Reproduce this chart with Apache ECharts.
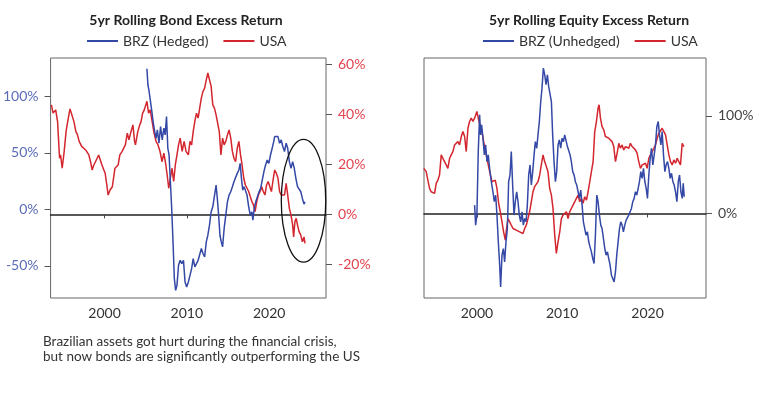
<!DOCTYPE html>
<html>
<head>
<meta charset="utf-8">
<script src="https://cdn.jsdelivr.net/npm/echarts@6/dist/echarts.min.js"></script>
<style>
  html, body { margin: 0; padding: 0; background: #fff; }
  #main { width: 778px; height: 396px; }
</style>
</head>
<body>
<div id="main"></div>
<script>
// left panel: bond excess returns
const bondUsaYears = [1993.55,1993.75,1994.07,1994.3,1994.54,1994.66,1994.86,1995.1,1995.33,1995.53,
  1995.81,1996.05,1996.28,1996.52,1996.72,1996.92,1997.23,1997.47,1997.71,1998.1,
  1998.3,1998.5,1998.7,1998.9,1999.29,1999.49,1999.69,1999.92,2000.08,2000.28,
  2000.44,2000.67,2000.95,2001.27,2001.51,2001.66,2001.86,2002.14,2002.38,2002.53,
  2002.77,2002.97,2003.17,2003.45,2003.65,2003.76,2004.04,2004.28,2004.44,2004.63,
  2004.83,2005.03,2005.15,2005.35,2005.55,2005.75,2006.02,2006.26,2006.5,2006.74,
  2006.98,2007.21,2007.45,2007.61,2007.8,2008.0,2008.2,2008.4,2008.6,2008.8,
  2008.99,2009.19,2009.43,2009.67,2009.9,2010.18,2010.38,2010.58,2010.77,2010.97,
  2011.17,2011.37,2011.56,2011.76,2011.96,2012.16,2012.36,2012.55,2012.75,2012.95,
  2013.15,2013.35,2013.55,2013.74,2013.94,2014.14,2014.34,2014.53,2014.73,2014.93,
  2015.13,2015.33,2015.53,2015.72,2015.92,2016.12,2016.32,2016.52,2016.71,2016.91,
  2017.11,2017.31,2017.51,2017.7,2017.9,2018.1,2018.29,2018.49,2018.69,2018.89,
  2019.09,2019.28,2019.48,2019.68,2019.88,2020.08,2020.27,2020.47,2020.67,2020.87,
  2021.07,2021.26,2021.46,2021.66,2021.86,2022.06,2022.25,2022.45,2022.65,2022.85,
  2022.97,2023.12,2023.28,2023.44,2023.64,2023.84,2024.03,2024.23,2024.35];
const bondUsa = [43.7,40.4,41.7,37.0,22.4,23.7,18.4,25.0,33.0,37.1,
  42.1,42.1,37.1,33.1,31.7,29.1,27.1,27.7,25.7,23.7,
  21.0,17.7,19.7,21.0,23.7,21.7,19.7,17.7,16.4,11.7,
  7.7,9.7,11.0,18.4,17.7,19.7,23.7,25.1,25.7,27.7,
  32.4,29.7,32.4,35.7,29.1,27.7,33.0,35.7,37.0,40.4,
  41.7,42.4,45.1,40.4,41.7,37.7,32.4,29.1,27.7,25.1,
  21.0,24.4,19.7,15.7,10.4,14.4,18.4,13.1,19.7,23.7,
  27.7,30.4,25.1,29.1,25.1,23.7,29.1,27.7,33.0,37.1,
  40.4,38.4,42.4,46.4,49.1,50.4,53.7,56.4,53.7,51.1,
  43.7,42.4,39.7,40.4,33.0,23.7,30.4,27.7,29.1,31.7,
  33.7,30.4,25.1,22.4,21.0,26.4,29.1,23.7,19.7,14.4,
  11.7,11.0,9.1,7.1,5.1,3.7,1.1,5.1,7.7,9.1,
  11.0,9.1,7.7,11.7,13.1,11.0,9.1,13.7,17.7,16.4,
  14.4,9.1,7.7,7.1,7.7,12.4,7.7,2.4,-0.3,-4.3,
  -9.0,-3.0,-1.6,-4.3,-7.0,-8.3,-11.0,-9.0,-11.6];

const bondBrzYears = [2005.15,2005.27,2005.42,2005.62,2005.75,2005.9,2006.1,2006.26,2006.42,2006.61,
  2006.81,2007.01,2007.21,2007.37,2007.53,2007.69,2007.84,2008.0,2008.16,2008.32,
  2008.48,2008.64,2008.8,2008.99,2009.19,2009.39,2009.59,2009.78,2009.98,2010.18,
  2010.38,2010.58,2010.77,2010.97,2011.17,2011.37,2011.56,2011.76,2011.96,2012.16,
  2012.36,2012.55,2012.75,2012.95,2013.15,2013.35,2013.55,2013.7,2013.86,2014.02,
  2014.18,2014.34,2014.53,2014.73,2014.93,2015.13,2015.33,2015.53,2015.72,2015.92,
  2016.12,2016.32,2016.48,2016.63,2016.79,2016.95,2017.11,2017.31,2017.51,2017.7,
  2017.9,2018.02,2018.18,2018.37,2018.57,2018.77,2018.96,2019.16,2019.36,2019.56,
  2019.76,2019.96,2020.16,2020.36,2020.55,2020.67,2020.87,2021.07,2021.26,2021.46,
  2021.66,2021.86,2022.06,2022.25,2022.45,2022.65,2022.85,2023.05,2023.24,2023.44,
  2023.64,2023.84,2024.03,2024.23,2024.35];
const bondBrz = [124.6,110.4,104.4,105.9,86.7,77.8,68.9,63.0,70.4,58.6,
  73.4,61.5,71.9,66.0,82.2,54.1,48.2,24.5,0.8,-28.8,
  -61.3,-71.7,-67.3,-49.5,-45.1,-48.0,-45.1,-64.3,-68.7,-64.3,
  -58.4,-52.5,-43.6,-51.0,-52.5,-45.1,-43.6,-34.7,-39.1,-42.1,
  -28.8,-22.9,-14.0,-2.1,2.3,0.8,21.5,9.7,-5.1,-22.9,
  -28.8,-33.2,-16.9,-5.1,6.7,12.7,15.6,20.1,24.5,26.0,
  31.9,34.9,40.8,27.5,17.1,20.1,18.6,12.7,2.3,-5.1,
  -2.1,-9.5,0.8,6.7,8.2,15.6,18.6,26.0,33.4,39.3,
  43.7,40.8,48.2,54.1,60.0,64.5,63.0,64.5,58.6,61.5,
  55.6,51.2,58.6,54.1,42.3,36.3,42.3,36.3,27.5,20.1,
  20.1,15.6,9.7,4.7,6.7];

// right panel: equity excess returns
const eqUsaYears = [1993.78,1994.06,1994.25,1994.45,1994.64,1994.84,1995.04,1995.23,1995.43,1995.62,
  1995.82,1996.01,1996.21,1996.4,1996.6,1996.8,1996.99,1997.19,1997.38,1997.58,
  1997.77,1997.97,1998.17,1998.36,1998.56,1998.75,1998.95,1999.14,1999.34,1999.53,
  1999.73,2000.0,2000.2,2000.4,2000.59,2000.79,2000.98,2001.18,2001.37,2001.57,
  2001.76,2001.96,2002.15,2002.35,2002.55,2002.74,2002.94,2003.13,2003.33,2003.45,
  2003.64,2003.84,2004.03,2004.23,2004.42,2004.62,2004.82,2005.01,2005.21,2005.4,
  2005.6,2005.79,2005.99,2006.18,2006.38,2006.57,2006.77,2006.97,2007.16,2007.36,
  2007.55,2007.75,2007.94,2008.14,2008.33,2008.53,2008.73,2008.92,2009.12,2009.31,
  2009.51,2009.71,2009.9,2010.1,2010.29,2010.49,2010.68,2010.88,2011.07,2011.27,
  2011.47,2011.66,2011.86,2012.05,2012.25,2012.44,2012.64,2012.84,2013.03,2013.23,
  2013.42,2013.62,2013.81,2014.01,2014.2,2014.32,2014.48,2014.67,2014.87,2015.06,
  2015.26,2015.45,2015.65,2015.84,2016.04,2016.24,2016.43,2016.63,2016.82,2017.02,
  2017.21,2017.41,2017.6,2017.8,2017.99,2018.19,2018.38,2018.58,2018.78,2018.97,
  2019.17,2019.37,2019.56,2019.76,2019.95,2020.15,2020.34,2020.54,2020.74,2020.93,
  2021.13,2021.32,2021.52,2021.71,2021.91,2022.11,2022.3,2022.5,2022.69,2022.89,
  2023.08,2023.28,2023.47,2023.67,2023.86,2024.06,2024.26];
const eqUsa = [46.2,42.8,34.2,25.7,22.2,24.0,20.5,30.8,34.2,39.4,
  60.0,56.5,54.8,49.7,46.2,56.5,60.0,63.4,70.2,71.9,
  73.6,70.2,78.8,83.9,78.8,63.4,87.3,94.2,97.6,94.2,
  97.6,104.5,95.9,94.2,83.9,73.6,71.9,56.5,48.0,46.2,
  32.5,30.8,34.2,25.7,10.3,1.7,-8.6,-18.9,-27.4,-17.2,
  -5.2,-8.6,-12.0,-15.5,-17.2,-17.2,-15.5,-18.9,-17.2,-20.6,
  -15.5,-12.0,-5.2,1.7,12.0,22.2,27.4,25.7,32.5,39.4,
  49.7,60.0,53.1,48.0,42.8,25.7,18.8,5.1,-22.3,-41.1,
  -29.1,-18.9,-5.2,-1.7,0.0,1.7,-5.2,1.7,0.0,8.5,
  12.0,15.4,18.8,12.0,15.4,10.3,17.1,13.7,22.2,32.5,
  42.8,53.1,83.9,94.2,107.9,111.3,97.6,89.0,85.6,78.8,
  80.5,77.1,75.3,73.6,68.5,53.1,61.6,71.9,66.8,70.2,
  65.1,68.5,70.2,66.8,71.9,68.5,70.2,65.1,61.6,53.1,
  46.2,49.7,48.0,51.4,46.2,56.5,54.8,63.4,66.8,70.2,
  77.1,82.2,80.5,87.3,88.0,80.5,70.2,60.0,53.1,49.7,
  54.8,51.4,56.5,54.8,49.7,71.9,68.5];

const eqBrzYears = [1999.73,1999.85,2000.0,2000.16,2000.32,2000.43,2000.55,2000.71,2000.87,2001.02,
  2001.18,2001.33,2001.49,2001.69,2001.88,2002.04,2002.2,2002.35,2002.51,2002.67,
  2002.78,2002.94,2003.1,2003.25,2003.41,2003.57,2003.72,2003.88,2004.03,2004.19,
  2004.35,2004.5,2004.66,2004.82,2004.97,2005.13,2005.29,2005.44,2005.6,2005.76,
  2005.91,2006.07,2006.23,2006.38,2006.54,2006.7,2006.85,2007.01,2007.16,2007.32,
  2007.48,2007.63,2007.79,2007.95,2008.1,2008.26,2008.41,2008.57,2008.73,2008.88,
  2009.04,2009.2,2009.35,2009.51,2009.66,2009.82,2009.98,2010.14,2010.29,2010.45,
  2010.61,2010.76,2010.92,2011.07,2011.23,2011.39,2011.54,2011.7,2011.86,2012.01,
  2012.17,2012.33,2012.48,2012.64,2012.79,2012.95,2013.11,2013.26,2013.42,2013.58,
  2013.73,2013.89,2014.05,2014.2,2014.36,2014.52,2014.67,2014.83,2014.99,2015.14,
  2015.3,2015.45,2015.61,2015.77,2015.92,2016.08,2016.24,2016.39,2016.55,2016.71,
  2016.86,2017.02,2017.17,2017.33,2017.49,2017.64,2017.8,2017.96,2018.11,2018.27,
  2018.43,2018.58,2018.74,2018.9,2019.05,2019.21,2019.37,2019.52,2019.68,2019.84,
  2019.99,2020.15,2020.31,2020.46,2020.62,2020.78,2020.93,2021.09,2021.25,2021.4,
  2021.56,2021.71,2021.87,2022.03,2022.18,2022.34,2022.5,2022.65,2022.81,2022.97,
  2023.12,2023.28,2023.44,2023.6,2023.75,2023.91,2024.07,2024.18,2024.3];
const eqBrz = [8.5,-12.0,-1.7,63.4,101.0,80.5,90.8,77.1,60.0,70.2,
  53.1,60.0,46.2,32.5,22.2,12.0,18.8,-1.7,-29.1,-53.1,
  -75.4,-42.8,-36.0,-49.7,-29.1,-15.5,32.5,39.4,63.4,29.1,
  -1.7,12.0,22.2,12.0,-1.7,-8.6,1.7,-12.0,-5.2,-8.6,
  8.5,39.4,49.7,29.1,42.8,60.0,73.6,66.8,80.5,94.2,
  114.7,128.4,149.0,142.1,131.9,142.1,130.2,128.4,114.7,80.5,
  53.1,32.5,42.8,70.2,75.3,66.8,77.1,73.6,80.5,78.8,
  68.5,66.8,60.0,53.1,42.8,39.4,32.5,29.1,22.2,15.4,
  24.0,8.5,-8.6,-15.5,-22.3,-18.9,-29.1,-34.3,-39.4,-46.3,
  -51.4,-22.3,18.8,12.0,-1.7,-12.0,-15.5,-25.7,-36.0,-42.8,
  -39.4,-46.3,-53.1,-63.4,-65.1,-70.2,-60.0,-42.8,-29.1,-15.5,
  -8.6,-12.0,-18.9,-12.0,-6.9,-5.2,-1.7,0.0,5.1,12.0,
  15.4,22.2,18.8,25.7,32.5,42.8,36.0,46.2,32.5,25.7,
  15.4,39.4,56.5,66.8,49.7,60.0,70.2,89.0,94.2,80.5,
  70.2,83.9,60.0,42.8,49.7,53.1,46.2,36.0,41.1,32.5,
  29.1,22.2,12.0,32.5,39.4,22.2,15.4,30.8,17.1];

const yearTicks = [2000, 2010, 2020];
const bondBrzTicks = [-50, 0, 50, 100];
const bondUsaTicks = [-20, 0, 20, 40, 60];
const eqTicks = [0, 100];

// the circled area on the bond panel (year, USA-axis value, half-width in years, half-height in %)
const circle = { year: 2024.17, value: 5.4, rx: 2.7, ry: 24.5 };

const font = 'Lato, "Open Sans", sans-serif';
const blue = '#3448a6';
const red = '#d3262e';

function zip(xs, ys) {
  return xs.map((x, i) => [x, ys[i]]);
}

const chart = echarts.init(document.getElementById('main'));

function zeroAxis(grid, min, max, yIdx) {
  return {
    gridIndex: grid, type: 'value', min: min, max: max, position: 'bottom',
    axisLine: { onZero: true, onZeroAxisIndex: yIdx, lineStyle: { color: '#222', width: 1.5 } },
    axisTick: { customValues: yearTicks, length: 4, lineStyle: { color: '#444' } },
    axisLabel: { show: false },
    splitLine: { show: false }
  };
}
function labelAxis(grid, min, max) {
  return {
    gridIndex: grid, type: 'value', min: min, max: max, position: 'bottom',
    axisLine: { show: false, onZero: false },
    axisTick: { show: false },
    axisLabel: { customValues: yearTicks, formatter: v => String(v), margin: 8,
      fontSize: 14, color: '#333', fontFamily: font },
    splitLine: { show: false }
  };
}
function valueAxis(grid, pos, min, max, ticks, color) {
  return {
    gridIndex: grid, type: 'value', position: pos, min: min, max: max,
    axisLine: { show: false, onZero: false },
    axisTick: { show: true, customValues: ticks, length: 6, lineStyle: { color: '#555' } },
    axisLabel: { customValues: ticks, formatter: '{value}%', margin: 12, fontSize: 14, color: color, fontFamily: font },
    splitLine: { show: false }
  };
}

const legendBase = {
  top: 29, icon: 'rect', itemWidth: 31, itemHeight: 2, itemGap: 15,
  textStyle: { fontSize: 14, color: '#333', fontFamily: font }
};

const option = {
  animation: false,
  textStyle: { fontFamily: font },
  title: [
    { text: '5yr Rolling Bond Excess Return', left: 181, top: 8, textAlign: 'center',
      textStyle: { fontSize: 14, fontWeight: 'bold', color: '#222', fontFamily: font } },
    { text: '5yr Rolling Equity Excess Return', left: 584, top: 8, textAlign: 'center',
      textStyle: { fontSize: 14, fontWeight: 'bold', color: '#222', fontFamily: font } }
  ],
  legend: [
    Object.assign({ data: ['BRZ (Hedged)', 'USA'], left: 82 }, legendBase),
    Object.assign({ data: ['BRZ (Unhedged)', 'USA'], left: 478 }, legendBase)
  ],
  grid: [
    { left: 44, top: 58, width: 282, height: 240, show: true, borderColor: '#666', borderWidth: 1 },
    { left: 424, top: 58, width: 282, height: 240, show: true, borderColor: '#666', borderWidth: 1 }
  ],
  xAxis: [
    zeroAxis(0, 1993.45, 2026.9, 1),
    labelAxis(0, 1993.45, 2026.9),
    zeroAxis(1, 1993.8, 2026.85, 2),
    labelAxis(1, 1993.8, 2026.85)
  ],
  yAxis: [
    valueAxis(0, 'left', -78.5, 134.1, bondBrzTicks, '#5b6cb6'),
    valueAxis(0, 'right', -33.4, 62.4, bondUsaTicks, '#e2434d'),
    valueAxis(1, 'right', -86.7, 159.3, eqTicks, '#444')
  ],
  series: [
    { name: 'USA', type: 'line', xAxisIndex: 1, yAxisIndex: 1, data: zip(bondUsaYears, bondUsa),
      symbol: 'none', lineStyle: { color: red, width: 1.5 }, itemStyle: { color: red } },
    { name: 'BRZ (Hedged)', type: 'line', xAxisIndex: 1, yAxisIndex: 0, data: zip(bondBrzYears, bondBrz),
      symbol: 'none', lineStyle: { color: blue, width: 1.5 }, itemStyle: { color: blue } },
    { name: 'USA', type: 'line', xAxisIndex: 3, yAxisIndex: 2, data: zip(eqUsaYears, eqUsa),
      symbol: 'none', lineStyle: { color: red, width: 1.5 }, itemStyle: { color: red } },
    { name: 'BRZ (Unhedged)', type: 'line', xAxisIndex: 3, yAxisIndex: 2, data: zip(eqBrzYears, eqBrz),
      symbol: 'none', lineStyle: { color: blue, width: 1.5 }, itemStyle: { color: blue } }
  ]
};

chart.setOption(option);

// ellipse annotation placed through the axes
const cx = chart.convertToPixel({ xAxisIndex: 1 }, circle.year);
const cy = chart.convertToPixel({ yAxisIndex: 1 }, circle.value);
const rx = chart.convertToPixel({ xAxisIndex: 1 }, circle.year + circle.rx) - cx;
const ry = cy - chart.convertToPixel({ yAxisIndex: 1 }, circle.value + circle.ry);

chart.setOption({
  graphic: [
    { type: 'ellipse', shape: { cx: cx, cy: cy, rx: rx, ry: ry }, z: 100,
      style: { fill: 'none', stroke: '#111', lineWidth: 1.3 } },
    { type: 'text', left: 43, top: 334, z: 100,
      style: { text: 'Brazilian assets got hurt during the financial crisis,\nbut now bonds are significantly outperforming the US',
        font: '13.5px ' + font, fill: '#333', lineHeight: 15 } }
  ]
});
</script>
</body>
</html>
